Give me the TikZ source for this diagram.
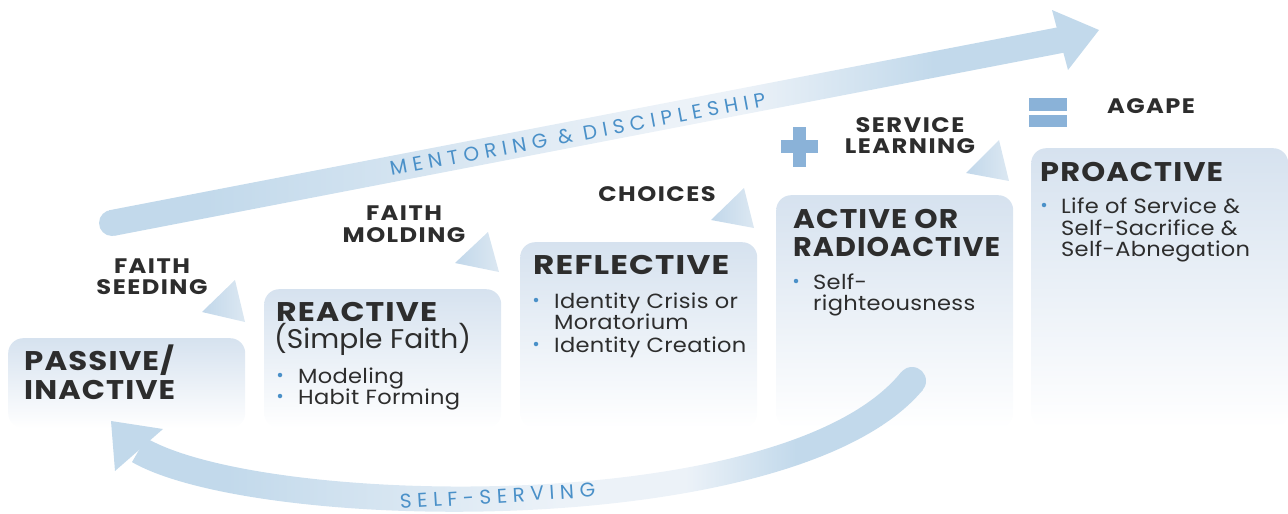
\documentclass[tikz,border=0pt]{standalone}
\usepackage{fontspec}
\usepackage{graphicx}
\setmainfont{Poppins}
\newfontfamily\ttlfont[FakeStretch=1.1, LetterSpace=4]{Poppins}
\newfontfamily\subfont[FakeStretch=1.05]{Poppins}
\newfontfamily\itmfont[FakeStretch=1.1, LetterSpace=1.5]{Poppins}
\newfontfamily\lblfont[FakeStretch=1.15, LetterSpace=7]{Poppins}
\newfontfamily\bandfont[LetterSpace=28]{Poppins}
\newcommand{\fitw}[2]{\resizebox{#1}{\height}{#2}}
\definecolor{txt}{RGB}{45,45,45}
\definecolor{bandblue}{RGB}{194,217,235}
\definecolor{bandlight}{RGB}{236,242,248}
\definecolor{boxtop}{RGB}{214,226,239}
\definecolor{accent}{RGB}{74,144,200}
\definecolor{signblue}{RGB}{138,178,216}
\definecolor{triA}{RGB}{193,215,234}
\definecolor{triB}{RGB}{220,232,242}
\pgfdeclarehorizontalshading{topband}{100bp}{color(0bp)=(bandblue); color(30bp)=(bandblue); color(54bp)=(bandlight); color(58bp)=(bandlight); color(68bp)=(bandblue); color(100bp)=(bandblue)}
\pgfdeclarehorizontalshading{botband}{100bp}{color(0bp)=(bandblue); color(31bp)=(bandblue); color(52bp)=(bandlight); color(60bp)=(bandlight); color(67bp)=(bandblue); color(100bp)=(bandblue)}
\begin{document}
\begin{tikzpicture}[x=1pt,y=-1pt,
  stagebox/.style={shade, top color=boxtop, bottom color=white, rounded corners=15pt, anchor=north west, inner sep=0pt, minimum width=237pt},
  ttl/.style={anchor=base west, inner sep=0pt, text=txt, font=\fontsize{27}{27}\ttlfont\bfseries},
  subttl/.style={anchor=base west, inner sep=0pt, text=txt, font=\fontsize{27}{27}\subfont},
  itm/.style={anchor=base west, inner sep=0pt, text=txt, font=\fontsize{20.5}{20.5}\itmfont},
  lbl/.style={anchor=base, inner sep=0pt, text=txt, font=\fontsize{21}{21}\lblfont\bfseries},
  dotmark/.style={circle, fill=accent, inner sep=0pt, minimum size=4.5pt},
  bandtxt/.style={anchor=base, inner sep=0pt, text=accent, font=\fontsize{20}{20}\bandfont},
  tri/.style={left color=triA, right color=triB},
]
\useasboundingbox (0,0) rectangle (1288,514);

% stage boxes
\node[stagebox, minimum height=90pt] (b1) at (8,338) {};
\node[stagebox, minimum height=139pt] (b2) at (264,289) {};
\node[stagebox, minimum height=186pt] (b3) at (520,242) {};
\node[stagebox, minimum height=233pt] (b4) at (776,195) {};
\node[stagebox, minimum height=280pt, minimum width=257pt] (b5) at (1031,148) {};

% small arrow triangles
\shade[tri] (235,280) -- (202,312) -- (245,322) -- cycle;
\shade[tri] (488,232) -- (455,263) -- (499,272) -- cycle;
\shade[tri] (744,188) -- (711,220) -- (754,228) -- cycle;
\shade[tri] (999,140) -- (966,173) -- (1009,181) -- cycle;

% top band (mentoring & discipleship)
\fill[bandblue] (112,223) circle[radius=13pt];
\shade[shading=topband] (109.5,210.2) -- (1063.5,26.2) -- (1068.5,51.8) -- (114.5,235.8) -- cycle;
\fill[bandblue] (1052,10) -- (1099,30) -- (1068,70) -- cycle;
\node[bandtxt, rotate=10.5] (mentor) at (579,141) {MENTORING \& DISCIPLESHIP};

% bottom band (self-serving)
\fill[bandblue] (912,381) circle[radius=14pt];
\shade[shading=botband] (146.0,437.9) .. controls (263.8,506.5) and (784.1,517.3) .. (901.2,372.1)
  -- (922.8,389.9) .. controls (795.9,542.7) and (256.2,533.5) .. (132.0,462.1) -- cycle;
\fill[bandblue] (111,421) -- (163,429) -- (115,471) -- cycle;
\node[bandtxt, rotate=3.5] (selfserv) at (498,503) {SELF-SERVING};

% plus and equal signs
\fill[signblue] (781,140) rectangle (818,153);
\fill[signblue] (793,127) rectangle (806,167);
\fill[signblue] (1029,98) rectangle (1067,111);
\fill[signblue] (1029,115) rectangle (1067,127);

% labels
\node[lbl] (l1a) at (152,273) {FAITH};
\node[lbl] (l1b) at (152,294) {SEEDING};
\node[lbl] (l2a) at (404,220) {FAITH};
\node[lbl] (l2b) at (404,242) {MOLDING};
\node[lbl] (l3) at (657,201) {CHOICES};
\node[lbl] (l4a) at (910,132) {SERVICE};
\node[lbl] (l4b) at (910,153) {LEARNING};
\node[lbl] (l5) at (1151,113) {AGAPE};

% box 1
\node[ttl] (t1a) at (24,370) {\fitw{150pt}{PASSIVE/}};
\node[ttl] (t1b) at (24,399) {\fitw{151pt}{INACTIVE}};
% box 2
\node[ttl] (t2a) at (276,321) {\fitw{161pt}{REACTIVE}};
\node[subttl] (t2b) at (274,348) {\fitw{197pt}{(Simple Faith)}};
\node[dotmark] (d2a) at (280,375) {};
\node[itm] (i2a) at (298,383) {Modeling};
\node[dotmark] (d2b) at (280,396) {};
\node[itm] (i2b) at (298,404) {Habit Forming};
% box 3
\node[ttl] (t3) at (533,274) {\fitw{196pt}{REFLECTIVE}};
\node[dotmark] (d3a) at (536,300) {};
\node[itm] (i3a) at (554,308) {Identity Crisis or};
\node[itm] (i3b) at (554,329) {Moratorium};
\node[dotmark] (d3b) at (536,344) {};
\node[itm] (i3c) at (554,352) {Identity Creation};
% box 4
\node[ttl] (t4a) at (793,228) {\fitw{165pt}{ACTIVE OR}};
\node[ttl] (t4b) at (793,256) {\fitw{207pt}{RADIOACTIVE}};
\node[dotmark] (d4a) at (796,281) {};
\node[itm] (i4a) at (813,289) {Self-};
\node[itm] (i4b) at (813,310) {righteousness};
% box 5
\node[ttl] (t5) at (1040,181) {\fitw{183pt}{PROACTIVE}};
\node[dotmark] (d5a) at (1044,205) {};
\node[itm] (i5a) at (1061,213) {Life of Service \&};
\node[itm] (i5b) at (1061,235) {Self-Sacrifice \&};
\node[itm] (i5c) at (1061,256) {Self-Abnegation};
\end{tikzpicture}
\end{document}
